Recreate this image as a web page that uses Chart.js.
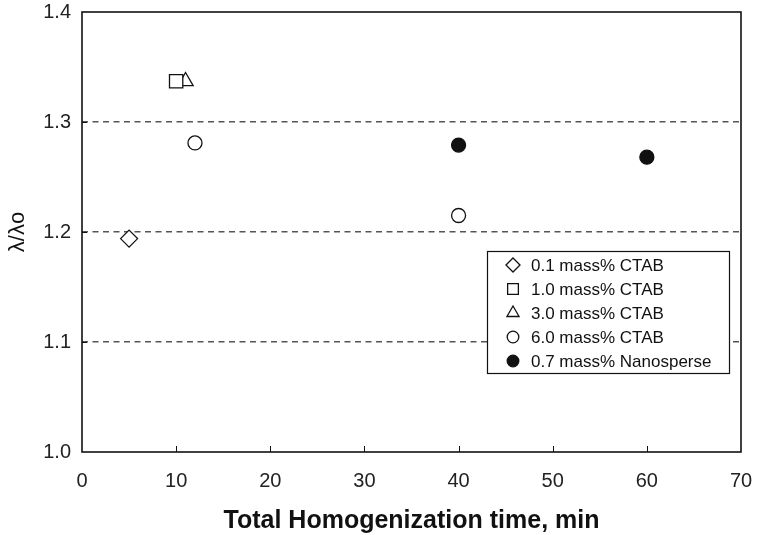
<!DOCTYPE html>
<html>
<head>
<meta charset="utf-8">
<script src="https://cdn.jsdelivr.net/npm/chart.js@4.4.1/dist/chart.umd.min.js"></script>
<style>
html,body{margin:0;padding:0;background:#fff;}
#wrap{width:757px;height:535px;position:relative;}
</style>
</head>
<body>
<div id="wrap"><canvas id="c" width="757" height="535"></canvas></div>
<script>
// ---- data ----
const seriesLabels = ["0.1 mass% CTAB","1.0 mass% CTAB","3.0 mass% CTAB","6.0 mass% CTAB","0.7 mass% Nanosperse"];
const ctab01_x = [5];      const ctab01_y = [1.194];
const ctab10_x = [10];     const ctab10_y = [1.337];
const ctab30_x = [11];     const ctab30_y = [1.337];
const ctab60_x = [12, 40]; const ctab60_y = [1.281, 1.215];
const nano07_x = [40, 60]; const nano07_y = [1.279, 1.268];
const xTicks = [0,10,20,30,40,50,60,70];
const yTicks = [1.0,1.1,1.2,1.3,1.4];
const xTitle = "Total Homogenization time, min";
const yTitle = "λ/λo";

const pts = (xs, ys) => xs.map((x,i)=>({x, y: ys[i]}));
const styles = [
  {pointStyle:'rectRot', radius:8.5, fill:'#fff', legendR:7},
  {pointStyle:'rect', radius:9.4, fill:'#fff', legendR:7.6},
  {pointStyle:'triangle', radius:8.8, fill:'#fff', legendR:7},
  {pointStyle:'circle', radius:7, fill:'#fff', legendR:5.8},
  {pointStyle:'circle', radius:7, fill:'#111', legendR:5.8}
];
const xsAll = [ctab01_x, ctab10_x, ctab30_x, ctab60_x, nano07_x];
const ysAll = [ctab01_y, ctab10_y, ctab30_y, ctab60_y, nano07_y];
const datasets = seriesLabels.map((lab,i)=>({
  label: lab,
  data: pts(xsAll[i], ysAll[i]),
  pointStyle: styles[i].pointStyle,
  pointRadius: styles[i].radius,
  pointHoverRadius: styles[i].radius,
  pointBackgroundColor: styles[i].fill,
  pointBorderColor: '#111',
  pointBorderWidth: 1.3,
  showLine: false,
  order: i
}));

const FONT = "'Liberation Sans', Arial, Helvetica, sans-serif";

const framePlugin = {
  id: 'frame',
  afterDraw(chart) {
    const {ctx, chartArea: a, scales} = chart;
    ctx.save();
    ctx.strokeStyle = '#111';
    ctx.lineWidth = 1;
    // inward ticks
    ctx.beginPath();
    xTicks.forEach(v => {
      if (v === xTicks[0] || v === xTicks[xTicks.length-1]) return;
      const px = Math.round(scales.x.getPixelForValue(v)) + 0.5;
      ctx.moveTo(px, a.bottom); ctx.lineTo(px, a.bottom - 6);
    });
    yTicks.forEach(v => {
      if (v === yTicks[0] || v === yTicks[yTicks.length-1]) return;
      const py = Math.round(scales.y.getPixelForValue(v)) + 0.5;
      ctx.moveTo(a.left, py); ctx.lineTo(a.left + 5, py);
    });
    ctx.stroke();
    // frame
    ctx.lineWidth = 1.6;
    ctx.strokeRect(a.left, a.top, a.right - a.left, a.bottom - a.top);
    // legend box
    const lx = Math.round(scales.x.getPixelForValue(43)), ly = Math.round(scales.y.getPixelForValue(1.1827));
    const lw = 242, lh = 122;
    ctx.fillStyle = '#fff';
    ctx.fillRect(lx, ly, lw, lh);
    ctx.lineWidth = 1.2;
    ctx.strokeRect(lx + 0.5, ly + 0.5, lw, lh);
    ctx.font = "17px " + FONT;
    ctx.textBaseline = 'middle';
    ctx.textAlign = 'left';
    chart.data.datasets.forEach((d, i) => {
      const cy = ly + 14 + i * 24;
      const r = styles[i].legendR;
      ctx.fillStyle = d.pointBackgroundColor;
      ctx.strokeStyle = '#111';
      ctx.lineWidth = 1.3;
      Chart.helpers.drawPoint(ctx, {pointStyle: d.pointStyle, radius: r, rotation: 0, borderWidth: 1.3}, lx + 26, cy);
      ctx.fillStyle = '#111';
      ctx.fillText(d.label, lx + 44, cy + 1);
    });
    ctx.restore();
  }
};

new Chart(document.getElementById('c'), {
  type: 'scatter',
  data: { datasets },
  plugins: [framePlugin],
  options: {
    responsive: false,
    animation: false,
    layout: { padding: { left: 0, right: 16, top: 12, bottom: 0 } },
    plugins: { legend: { display: false }, tooltip: { enabled: false } },
    scales: {
      x: {
        type: 'linear', min: 0, max: 70,
        afterBuildTicks(s) { s.ticks = xTicks.map(v => ({value: v})); },
        afterFit(s) { s.height = 83; s.paddingLeft = 0; s.paddingRight = 0; },
        grid: { display: false, drawTicks: false },
        border: { display: false },
        ticks: { color: '#222', font: { family: FONT, size: 20 }, padding: 17, maxRotation: 0 },
        title: { display: true, text: xTitle, color: '#111', font: { family: FONT, size: 25, weight: 'bold', lineHeight: 1.1 }, padding: { top: 0, bottom: 0 } }
      },
      y: {
        type: 'linear', min: 1.0, max: 1.4,
        afterBuildTicks(s) { s.ticks = yTicks.map(v => ({value: v})); },
        afterFit(s) { s.width = 82; s.paddingTop = 0; s.paddingBottom = 0; },
        grid: {
          drawTicks: false,
          color: c => (c.tick && (c.tick.value === 1.0 || c.tick.value === 1.4)) ? 'rgba(0,0,0,0)' : '#555',
          lineWidth: 1.4
        },
        border: { display: false, dash: [6, 4.5] },
        ticks: { color: '#222', font: { family: FONT, size: 20 }, padding: 11, callback: v => v.toFixed(1) },
        title: { display: true, text: yTitle, color: '#111', font: { family: FONT, size: 22 }, padding: { top: 5, bottom: 0 } }
      }
    }
  }
});
</script>
</body>
</html>
